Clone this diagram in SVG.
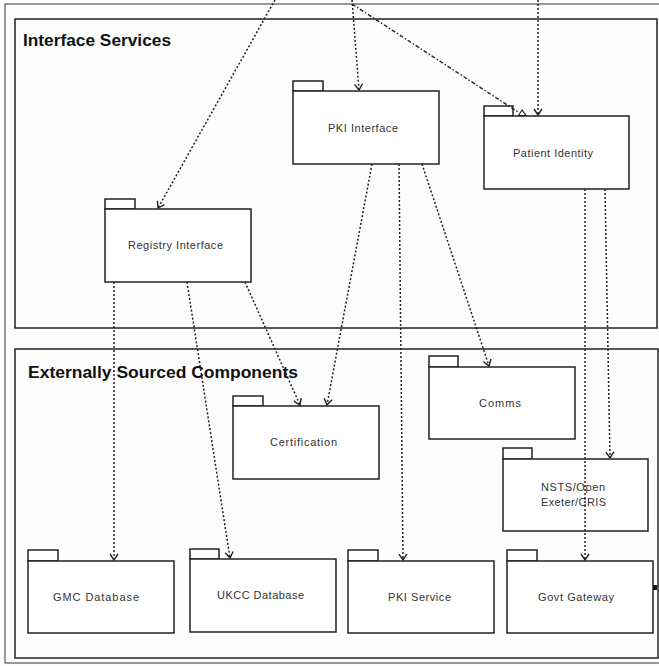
<svg xmlns="http://www.w3.org/2000/svg" width="659" height="666" viewBox="0 0 659 666">
  <defs>
    <style>
      .frame { fill: none; stroke: #222; stroke-width: 1.5; }
      .outer { fill: none; stroke: #555; stroke-width: 1.2; }
      .pkg { fill: #fff; stroke: #222; stroke-width: 1.5; }
      .title { font-family: "Liberation Sans", Arial, sans-serif; font-size: 17px; font-weight: bold; fill: #111; }
      .lbl { font-family: "Liberation Sans", Arial, sans-serif; font-size: 11px; fill: #333; text-anchor: middle; }
      .dep { fill: none; stroke: #222; stroke-width: 1.5; stroke-dasharray: 2 2; }
      .dashdot { fill: none; stroke: #222; stroke-width: 1.4; stroke-dasharray: 4 2 1.5 2; }
    </style>
    <marker id="open" viewBox="-8 -6 10 12" refX="0" refY="0" markerWidth="10" markerHeight="12" markerUnits="userSpaceOnUse" orient="auto">
      <path d="M-6,-4 L0,0 L-6,4" fill="none" stroke="#222" stroke-width="1.4"/>
    </marker>
  </defs>

  <rect x="0" y="0" width="659" height="666" fill="#fdfdfd"/>

  <!-- enclosing frame -->
  <rect class="outer" x="5" y="4" width="700" height="659"/>

  <!-- layers -->
  <g id="interface-services">
    <rect class="frame" x="15" y="19" width="642" height="309"/>
    <text class="title" x="23" y="46" textLength="148" lengthAdjust="spacingAndGlyphs">Interface Services</text>
  </g>
  <g id="externally-sourced">
    <rect class="frame" x="15" y="349" width="643" height="309"/>
    <text class="title" x="28" y="378" textLength="270" lengthAdjust="spacingAndGlyphs">Externally Sourced Components</text>
  </g>

  <!-- packages -->
  <g id="pki-interface">
    <rect class="pkg" x="293" y="81" width="30" height="10"/>
    <rect class="pkg" x="293" y="91" width="146" height="73"/>
    <text class="lbl" x="363" y="132" textLength="70" lengthAdjust="spacing">PKI Interface</text>
  </g>
  <g id="patient-identity">
    <rect class="pkg" x="484" y="106" width="29" height="10"/>
    <rect class="pkg" x="484" y="116" width="145" height="73"/>
    <text class="lbl" x="553" y="157" textLength="80" lengthAdjust="spacing">Patient Identity</text>
  </g>
  <g id="registry-interface">
    <rect class="pkg" x="105" y="199" width="30" height="10"/>
    <rect class="pkg" x="105" y="209" width="146" height="73"/>
    <text class="lbl" x="175.5" y="249" textLength="95" lengthAdjust="spacing">Registry Interface</text>
  </g>
  <g id="certification">
    <rect class="pkg" x="233" y="396" width="30" height="10"/>
    <rect class="pkg" x="233" y="406" width="146" height="73"/>
    <text class="lbl" x="303.5" y="446" textLength="67" lengthAdjust="spacing">Certification</text>
  </g>
  <g id="comms">
    <rect class="pkg" x="429" y="356" width="29" height="11"/>
    <rect class="pkg" x="429" y="367" width="146" height="72"/>
    <text class="lbl" x="500" y="407" textLength="42" lengthAdjust="spacing">Comms</text>
  </g>
  <g id="nsts-open-exeter-cris">
    <rect class="pkg" x="503" y="448" width="29" height="11"/>
    <rect class="pkg" x="503" y="459" width="145" height="72"/>
    <text class="lbl" x="573" y="491" textLength="64" lengthAdjust="spacing">NSTS/Open</text>
    <text class="lbl" x="573.5" y="506" textLength="65" lengthAdjust="spacing">Exeter/CRIS</text>
  </g>
  <g id="gmc-database">
    <rect class="pkg" x="28" y="550" width="30" height="11"/>
    <rect class="pkg" x="28" y="561" width="146" height="72"/>
    <text class="lbl" x="96" y="601" textLength="86" lengthAdjust="spacing">GMC Database</text>
  </g>
  <g id="ukcc-database">
    <rect class="pkg" x="190" y="549" width="29" height="10"/>
    <rect class="pkg" x="190" y="559" width="146" height="73"/>
    <text class="lbl" x="260.5" y="599" textLength="87" lengthAdjust="spacing">UKCC Database</text>
  </g>
  <g id="pki-service">
    <rect class="pkg" x="348" y="550" width="30" height="11"/>
    <rect class="pkg" x="348" y="561" width="146" height="72"/>
    <text class="lbl" x="419.5" y="601" textLength="63" lengthAdjust="spacing">PKI Service</text>
  </g>
  <g id="govt-gateway">
    <rect class="pkg" x="507" y="550" width="30" height="11"/>
    <rect class="pkg" x="507" y="561" width="146" height="72"/>
    <text class="lbl" x="576" y="601" textLength="76" lengthAdjust="spacing">Govt Gateway</text>
    <rect x="653" y="585" width="4" height="5" fill="#111"/>
  </g>

  <!-- dependencies -->
  <g id="connectors">
    <path class="dep" d="M275,0 L158,208" marker-end="url(#open)"/>
    <path class="dep" d="M352,0 L359,90" marker-end="url(#open)"/>
    <path class="dashdot" d="M352,4 L518,112"/>
    <path d="M518.5,115.5 L522,110 L526,115.5 Z" fill="#fff" stroke="#222" stroke-width="1.2"/>
    <path class="dep" d="M538,0 L538,115" marker-end="url(#open)"/>
    <path class="dep" d="M372,164 L327,405" marker-end="url(#open)"/>
    <path class="dep" d="M399,164 L403,560" marker-end="url(#open)"/>
    <path class="dep" d="M422,164 L489,366" marker-end="url(#open)"/>
    <path class="dep" d="M585,189 L585,560" marker-end="url(#open)"/>
    <path class="dep" d="M605,189 L610,458" marker-end="url(#open)"/>
    <path class="dep" d="M114,282 L114,560" marker-end="url(#open)"/>
    <path class="dep" d="M187,282 L230,558" marker-end="url(#open)"/>
    <path class="dep" d="M245,282 L300,405" marker-end="url(#open)"/>
  </g>
</svg>
